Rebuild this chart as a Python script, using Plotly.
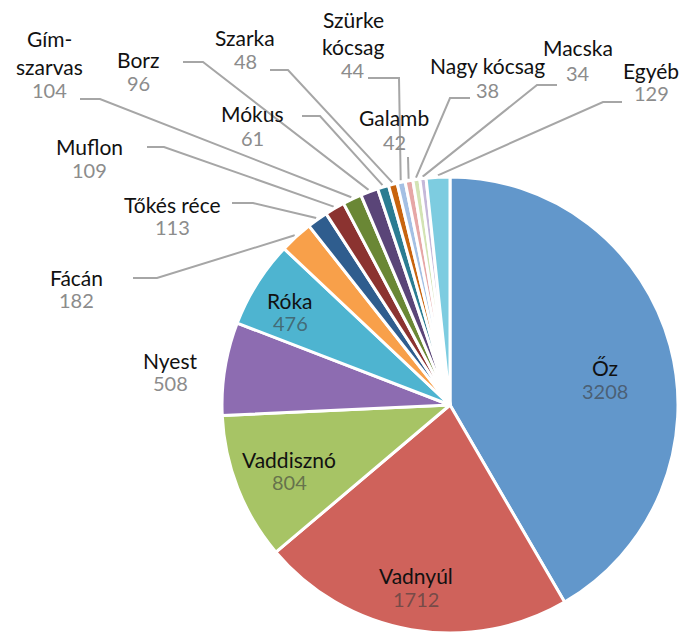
import math
import plotly.graph_objects as go

# ---------------- data ----------------
categories = ["Őz", "Vadnyúl", "Vaddisznó", "Nyest", "Róka", "Fácán", "Tőkés réce",
              "Muflon", "Gím-szarvas", "Borz", "Mókus", "Szarka", "Szürke kócsag",
              "Galamb", "Nagy kócsag", "Macska", "Egyéb"]
values = [3208, 1712, 804, 508, 476, 182, 113, 109, 104, 96, 61, 48, 44, 42, 38, 34, 129]
label_lines = [["Őz"], ["Vadnyúl"], ["Vaddisznó"], ["Nyest"], ["Róka"], ["Fácán"],
               ["Tőkés réce"], ["Muflon"], ["Gím-", "szarvas"], ["Borz"], ["Mókus"],
               ["Szarka"], ["Szürke", "kócsag"], ["Galamb"], ["Nagy kócsag"],
               ["Macska"], ["Egyéb"]]

colors = ["#6297CB", "#CF625B", "#A7C465", "#8D6CB1", "#4EB4D0", "#F8A04A",
          "#2F5D8E", "#8B3330", "#6A8735", "#5A4578", "#2B7C92", "#C8640E",
          "#A4C0E4", "#E6A7A6", "#D3E3B4", "#C5B8D9", "#7DCCE0"]

# ---------------- layout (pixel positions) ----------------
W, H = 685, 637
CX, CY, R = 450, 405, 228
FONT = "Lato"
FS = 21

# name x, name line y's, value y
label_pos = {
    "Őz": (605, [367], 391),
    "Vadnyúl": (416, [575], 599),
    "Vaddisznó": (289, [459], 482),
    "Nyest": (170, [360], 383),
    "Róka": (290, [300], 323),
    "Fácán": (76, [277], 300),
    "Tőkés réce": (172, [204], 227),
    "Muflon": (89, [146], 170),
    "Gím-szarvas": (49, [38, 66], 90),
    "Borz": (138, [59], 83),
    "Mókus": (252, [113], 138),
    "Szarka": (245, [37], 61),
    "Szürke kócsag": (353, [19, 46], 70),
    "Galamb": (394, [117], 142),
    "Nagy kócsag": (487, [65], 90),
    "Macska": (578, [47], 73),
    "Egyéb": (651, [70], 93),
}
# leader lines: (anchor near label, elbow)
leaders = {
    "Fácán": ((133, 278), (157, 278)),
    "Tőkés réce": ((232, 203), (253, 203)),
    "Muflon": ((147, 147), (164, 147)),
    "Gím-szarvas": ((80, 99), (100, 99)),
    "Borz": ((183, 62), (203, 62)),
    "Mókus": ((302, 116), (320, 116)),
    "Szarka": ((270, 70), (288, 70)),
    "Szürke kócsag": ((368, 78), (399, 78)),
    "Galamb": ((408, 157), (408, 157)),
    "Nagy kócsag": ((470, 98), (450, 98)),
    "Macska": ((557, 85), (537, 85)),
    "Egyéb": ((622, 102), (603, 102)),
}
inside = {"Őz", "Vadnyúl", "Vaddisznó", "Róka"}

fig = go.Figure()

# leader lines (computed to each slice's mid-angle)
total = sum(values)
cum = 0
lx, ly = [], []
for cat, v in zip(categories, values):
    mid = (cum + v / 2) / total * 2 * math.pi
    cum += v
    if cat in leaders:
        (ax, ay), (ex, ey) = leaders[cat]
        px = CX + (R + 2) * math.sin(mid)
        py = CY - (R + 2) * math.cos(mid)
        lx += [ax, ex, px, None]
        ly += [ay, ey, py, None]

fig.add_trace(go.Scatter(x=lx, y=ly, mode="lines",
                         line=dict(color="#A6A6A6", width=2),
                         hoverinfo="skip", showlegend=False))

fig.add_trace(go.Pie(
    labels=categories, values=values, sort=False, direction="clockwise",
    rotation=0, marker=dict(colors=colors, line=dict(color="white", width=3)),
    textinfo="none", hoverinfo="skip", showlegend=False,
    domain=dict(x=[(CX - R) / W, (CX + R) / W],
                y=[(H - CY - R) / H, (H - CY + R) / H]),
))

annotations = []
for cat, v, lines in zip(categories, values, label_lines):
    x, ys, vy = label_pos[cat]
    for line, y in zip(lines, ys):
        annotations.append(dict(x=x, y=y, xref="x", yref="y", text=line,
                                showarrow=False, xanchor="center", yanchor="middle",
                                font=dict(family=FONT, size=FS, color="#111111")))
    vcol = "rgba(60,60,60,0.62)" if cat in inside else "#8C8C8C"
    annotations.append(dict(x=x, y=vy, xref="x", yref="y", text=str(v),
                            showarrow=False, xanchor="center", yanchor="middle",
                            font=dict(family=FONT, size=FS - 1, color=vcol)))

fig.update_layout(
    width=W, height=H, margin=dict(l=0, r=0, t=0, b=0),
    paper_bgcolor="white", plot_bgcolor="white",
    xaxis=dict(range=[0, W], visible=False, fixedrange=True, domain=[0, 1]),
    yaxis=dict(range=[H, 0], visible=False, fixedrange=True, domain=[0, 1]),
    annotations=annotations, showlegend=False,
)

fig.write_html("out.html", config={"displayModeBar": False},
               post_script="document.body.style.margin='0';document.body.style.overflow='hidden';")
